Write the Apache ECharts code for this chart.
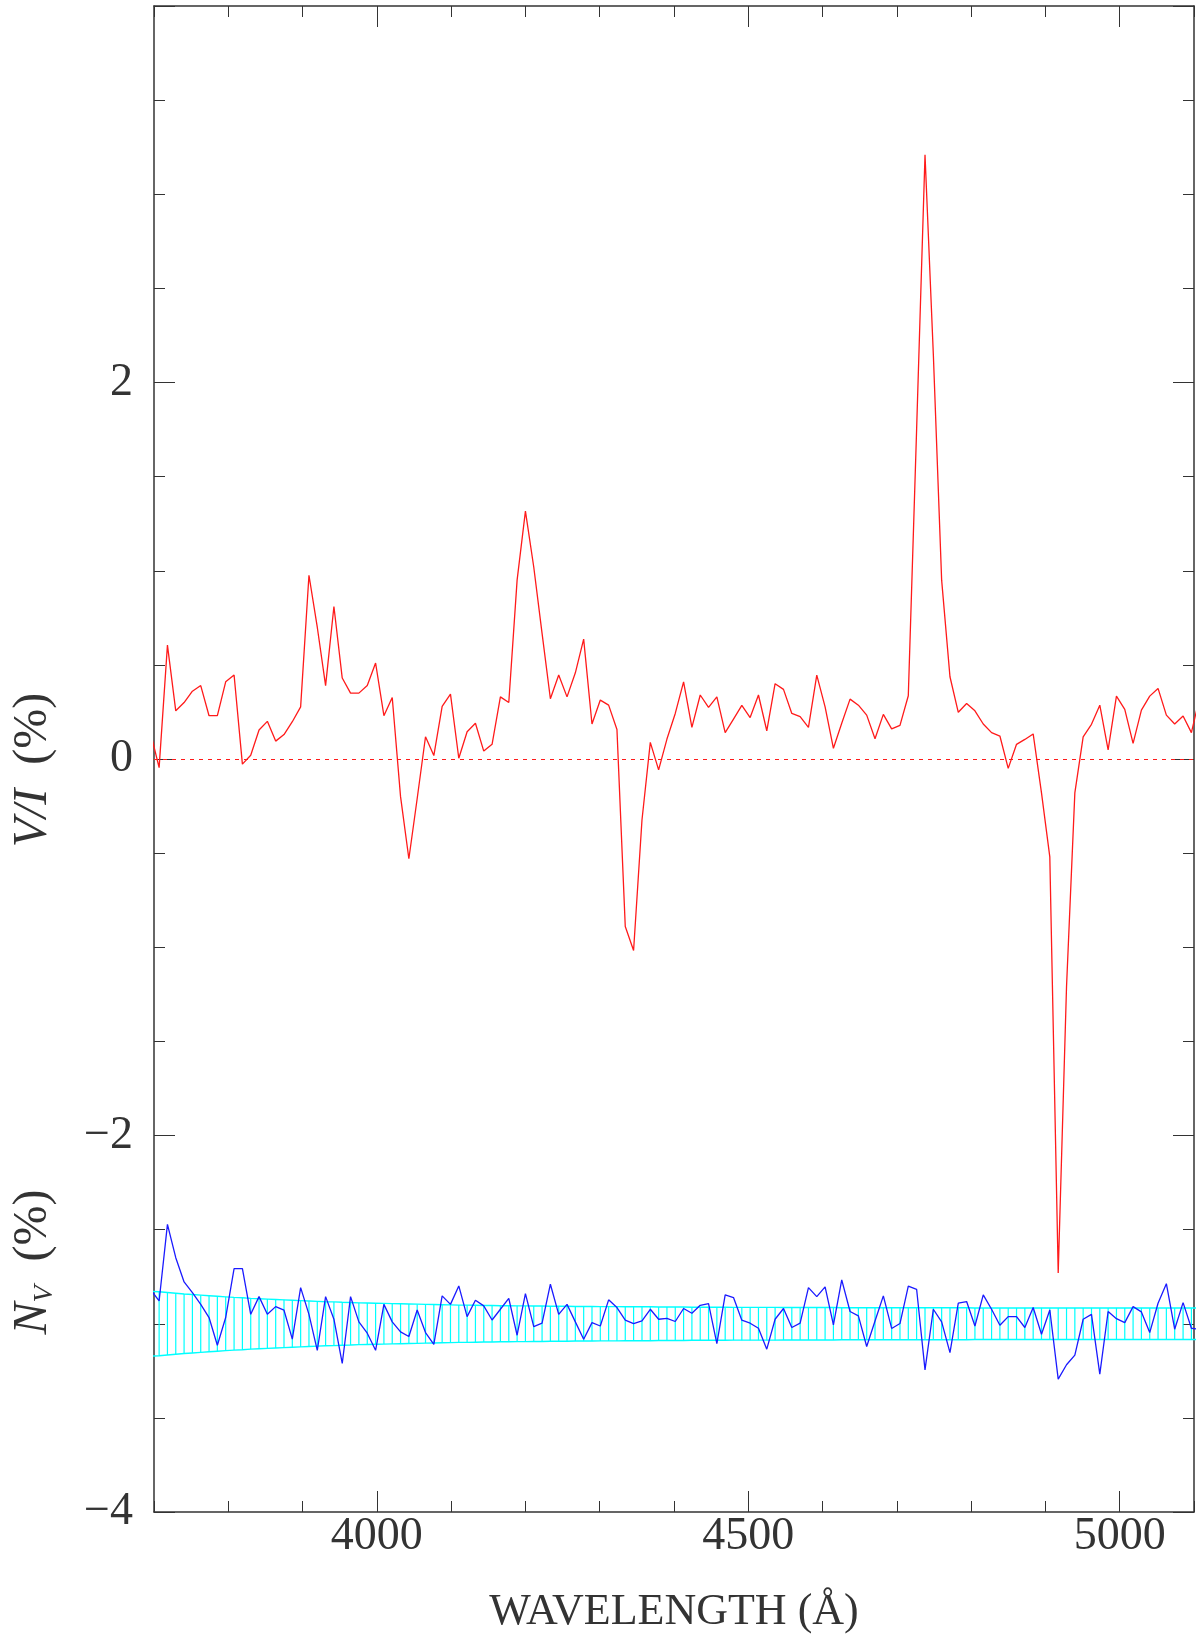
<!DOCTYPE html>
<html>
<head>
<meta charset="utf-8">
<script src="https://cdn.jsdelivr.net/npm/echarts@6/dist/echarts.min.js"></script>
<style>
html,body{margin:0;padding:0;background:#fff;}
#chart{width:1200px;height:1643px;}
</style>
</head>
<body>
<div id="chart"></div>
<script>
// ---- data ----
const wavelengths = [3695.7,3706.9,3718.1,3729.3,3740.5,3751.7,3762.9,3774.1,3785.3,3796.5,
3807.8,3819.0,3830.2,3841.4,3852.6,3863.8,3875.0,3886.2,3897.4,3908.6,
3919.8,3931.0,3942.2,3953.4,3964.6,3975.8,3987.1,3998.3,4009.5,4020.7,
4031.9,4043.1,4054.3,4065.5,4076.7,4087.9,4099.1,4110.3,4121.5,4132.7,
4143.9,4155.1,4166.3,4177.6,4188.8,4200.0,4211.2,4222.4,4233.6,4244.8,
4256.0,4267.2,4278.4,4289.6,4300.8,4312.0,4323.2,4334.4,4345.6,4356.9,
4368.1,4379.3,4390.5,4401.7,4412.9,4424.1,4435.3,4446.5,4457.7,4468.9,
4480.1,4491.3,4502.5,4513.7,4524.9,4536.1,4547.4,4558.6,4569.8,4581.0,
4592.2,4603.4,4614.6,4625.8,4637.0,4648.2,4659.4,4670.6,4681.8,4693.0,
4704.2,4715.4,4726.6,4737.9,4749.1,4760.3,4771.5,4782.7,4793.9,4805.1,
4816.3,4827.5,4838.7,4849.9,4861.1,4872.3,4883.5,4894.7,4905.9,4917.2,
4928.4,4939.6,4950.8,4962.0,4973.2,4984.4,4995.6,5006.8,5018.0,5029.2,
5040.4,5051.6,5062.8,5074.0,5085.3,5096.5,5107.7];

// Stokes V/I (%)
const stokesV = [0.134,-0.046,0.605,0.256,0.30,0.36,0.39,0.23,0.23,0.41,
0.446,-0.027,0.02,0.154,0.20,0.095,0.13,0.198,0.277,0.976,
0.70,0.39,0.81,0.43,0.35,0.35,0.39,0.51,0.23,0.327,
-0.2,-0.53,-0.21,0.118,0.018,0.28,0.345,0.004,0.145,0.19,
0.042,0.078,0.33,0.30,0.95,1.317,1.02,0.667,0.32,0.446,
0.33,0.458,0.637,0.186,0.313,0.286,0.157,-0.89,-1.017,-0.324,
0.088,-0.058,0.106,0.242,0.41,0.168,0.34,0.274,0.33,0.14,
0.212,0.285,0.22,0.34,0.15,0.40,0.37,0.242,0.225,0.168,
0.446,0.277,0.057,0.19,0.318,0.286,0.233,0.108,0.237,0.16,
0.179,0.336,1.75,3.21,2.15,0.95,0.437,0.248,0.295,0.256,
0.186,0.14,0.122,-0.05,0.078,0.104,0.133,-0.18,-0.52,-2.73,
-1.21,-0.18,0.118,0.184,0.286,0.048,0.334,0.264,0.083,0.26,
0.334,0.375,0.233,0.186,0.228,0.14,0.33];

// Null spectrum N_V (%), plotted with an offset of -3
const nullV = [-2.82,-2.879,-2.472,-2.649,-2.778,-2.835,-2.897,-2.967,-3.114,-2.967,
-2.707,-2.707,-2.95,-2.856,-2.95,-2.909,-2.928,-3.082,-2.808,-2.95,
-3.141,-2.856,-2.976,-3.211,-2.856,-2.99,-3.05,-3.141,-2.897,-2.99,
-3.043,-3.068,-2.927,-3.047,-3.109,-2.852,-2.897,-2.799,-2.962,-2.875,
-2.905,-2.98,-2.923,-2.865,-3.061,-2.84,-3.015,-2.997,-2.79,-2.95,
-2.897,-2.99,-3.082,-2.994,-3.012,-2.873,-2.914,-2.981,-2.999,-2.985,
-2.923,-2.976,-2.971,-2.988,-2.919,-2.944,-2.902,-2.893,-3.105,-2.847,
-2.861,-2.981,-2.997,-3.024,-3.135,-2.976,-2.919,-3.02,-2.997,-2.808,
-2.856,-2.804,-3.006,-2.767,-2.935,-2.958,-3.121,-2.985,-2.852,-3.025,
-2.999,-2.80,-2.817,-3.245,-2.923,-2.99,-3.153,-2.891,-2.882,-3.012,
-2.847,-2.923,-3.008,-2.962,-2.962,-3.02,-2.914,-3.056,-2.927,-3.294,
-3.218,-3.167,-2.976,-2.95,-3.268,-2.935,-2.973,-2.994,-2.909,-2.937,
-3.047,-2.891,-2.787,-3.029,-2.888,-3.024,-3.03];

// 1-sigma error band half-width (%) around the null offset
const nullOffset = -3;
const sigma = [0.172,0.170,0.166,0.162,0.158,0.155,0.152,0.149,0.146,0.143,
0.140,0.138,0.135,0.133,0.131,0.129,0.127,0.125,0.123,0.121,
0.119,0.117,0.116,0.114,0.113,0.111,0.110,0.109,0.108,0.107,
0.106,0.105,0.104,0.103,0.102,0.101,0.100,0.099,0.099,0.098,
0.097,0.097,0.096,0.096,0.095,0.095,0.094,0.094,0.093,0.093,
0.093,0.092,0.092,0.092,0.091,0.091,0.091,0.090,0.090,0.090,
0.090,0.089,0.089,0.089,0.089,0.088,0.088,0.088,0.088,0.088,
0.087,0.087,0.087,0.087,0.087,0.087,0.086,0.086,0.086,0.086,
0.086,0.086,0.086,0.085,0.085,0.085,0.085,0.085,0.085,0.085,
0.085,0.085,0.085,0.085,0.085,0.085,0.085,0.085,0.085,0.084,
0.084,0.084,0.084,0.084,0.084,0.084,0.084,0.084,0.084,0.084,
0.084,0.084,0.084,0.084,0.084,0.084,0.084,0.084,0.084,0.084,
0.084,0.084,0.084,0.084,0.084,0.084,0.084];

const xMajorTicks = [4000, 4500, 5000];
const yTickLabels = [-4, -2, 0, 2];

// ---- chart ----
const FONT = "'Liberation Serif', 'DejaVu Serif', serif";
const AX = '#333';
const chart = echarts.init(document.getElementById('chart'), null, {renderer: 'canvas'});

const vData = wavelengths.map((w, i) => [w, stokesV[i]]);
const nData = wavelengths.map((w, i) => [w, nullV[i]]);
const bandData = wavelengths.map((w, i) => [w, sigma[i]]);
const upper = wavelengths.map((w, i) => [w, nullOffset + sigma[i]]);
const lower = wavelengths.map((w, i) => [w, nullOffset - sigma[i]]);

function minorX(pos, showLine) {
  return {
    type: 'value', min: 3700, max: 5100, interval: 100, position: pos,
    axisLine: {show: showLine, onZero: false, lineStyle: {color: AX, width: 1.5}},
    axisTick: {show: true, inside: true, length: 11, lineStyle: {color: AX, width: 1}},
    axisLabel: {show: false}, splitLine: {show: false}
  };
}
function majorX(pos, labels) {
  return {
    type: 'value', min: 3700, max: 5100, position: pos,
    axisLine: {show: false, onZero: false},
    axisTick: {show: true, inside: true, length: 21, customValues: xMajorTicks, lineStyle: {color: AX, width: 1}},
    axisLabel: labels ? {show: true, customValues: xMajorTicks, fontFamily: FONT, fontSize: 46, color: AX, margin: 2,
                         formatter: v => String(Math.round(v))} : {show: false},
    splitLine: {show: false}
  };
}
function yAx(pos, labels) {
  return {
    type: 'value', min: -4, max: 4, interval: 2, position: pos,
    axisLine: {show: true, onZero: false, lineStyle: {color: AX, width: 1.5}},
    axisTick: {show: true, inside: true, length: 21, lineStyle: {color: AX, width: 1}},
    minorTick: {show: true, splitNumber: 4, length: 11, lineStyle: {color: AX, width: 1}},
    axisLabel: labels ? {
      show: true, fontFamily: FONT, fontSize: 46, color: AX, margin: 21,
      formatter: v => yTickLabels.indexOf(v) < 0 ? '' : (v < 0 ? '\u2212' + Math.abs(v) : String(v))
    } : {show: false},
    splitLine: {show: false}, minorSplitLine: {show: false}
  };
}

const option = {
  animation: false,
  backgroundColor: '#fff',
  grid: {left: 154, right: 6, top: 6, bottom: 131, containLabel: false},
  xAxis: [minorX('bottom', true), majorX('bottom', true), minorX('top', true), majorX('top', false)],
  yAxis: [yAx('left', true), yAx('right', false)],
  graphic: [
    {type: 'text', x: 674, y: 1612, z: 100,
     style: {text: 'WAVELENGTH (Å)', fontFamily: FONT, fontSize: 44, fill: AX, align: 'center', verticalAlign: 'middle'}},
    {type: 'text', x: 33, y: 770, rotation: Math.PI / 2, z: 100,
     style: {text: '{i|V/I}  (%)', fontFamily: FONT, fontSize: 48, fill: AX, align: 'center', verticalAlign: 'middle',
       rich: {i: {fontFamily: FONT, fontSize: 48, fontStyle: 'italic', fill: AX}}}},
    {type: 'text', x: 33, y: 1262, rotation: Math.PI / 2, z: 100,
     style: {text: '{i|N}{s|V}  (%)', fontFamily: FONT, fontSize: 48, fill: AX, align: 'center', verticalAlign: 'middle',
       rich: {i: {fontFamily: FONT, fontSize: 48, fontStyle: 'italic', fill: AX, lineHeight: 52},
              s: {fontFamily: FONT, fontSize: 28, fontStyle: 'italic', fill: AX, lineHeight: 28, verticalAlign: 'bottom'}}}}
  ],
  series: [
    {
      name: 'band', type: 'custom', xAxisIndex: 0, yAxisIndex: 0, clip: true, z: 1,
      data: bandData,
      renderItem: function (params, api) {
        const x = api.value(0), s = api.value(1);
        const p1 = api.coord([x, nullOffset + s]);
        const p2 = api.coord([x, nullOffset - s]);
        return {type: 'line', shape: {x1: p1[0], y1: p1[1], x2: p2[0], y2: p2[1]},
                style: {stroke: '#00ffff', lineWidth: 1.2}};
      }
    },
    {name: 'upper', type: 'line', data: upper, showSymbol: false, symbol: 'none', clip: true, z: 2,
     lineStyle: {color: '#00ffff', width: 1.4}},
    {name: 'lower', type: 'line', data: lower, showSymbol: false, symbol: 'none', clip: true, z: 2,
     lineStyle: {color: '#00ffff', width: 1.4}},
    {name: 'N_V', type: 'line', data: nData, showSymbol: false, symbol: 'none', clip: true, z: 3,
     lineStyle: {color: '#1a1aff', width: 1.3}},
    {name: 'V/I', type: 'line', data: vData, showSymbol: false, symbol: 'none', clip: true, z: 4,
     lineStyle: {color: '#ff1a1a', width: 1.3},
     markLine: {silent: true, symbol: 'none', label: {show: false},
       lineStyle: {color: '#ff1a1a', type: [4, 5], width: 1.2},
       data: [{yAxis: 0}]}}
  ]
};
chart.setOption(option);
</script>
</body>
</html>
